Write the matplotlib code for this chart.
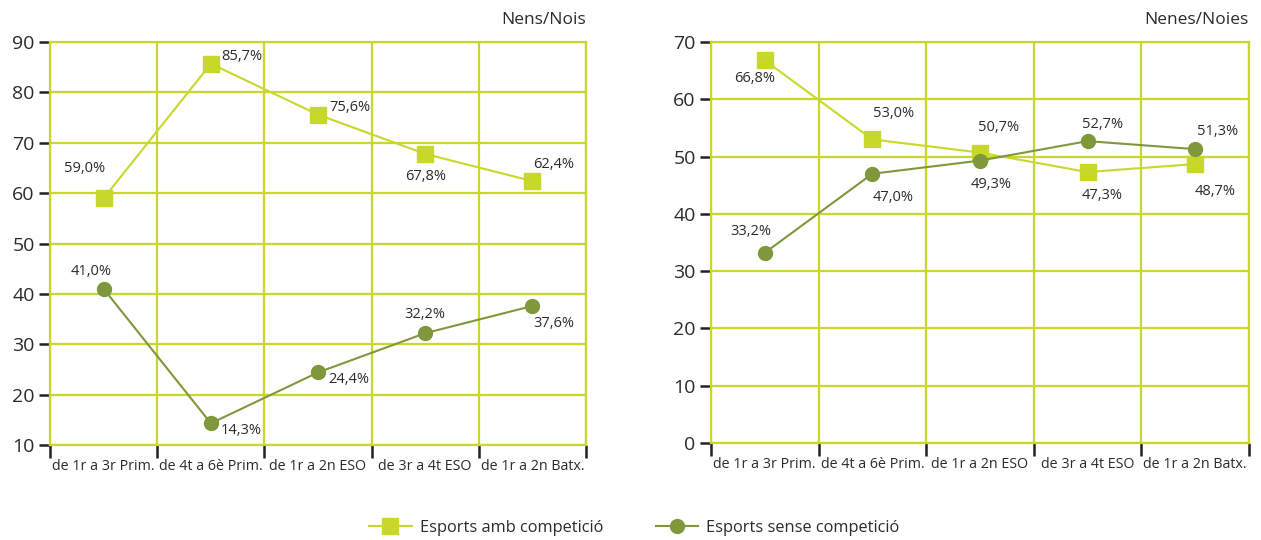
import numpy as np
import matplotlib.pyplot as plt
from matplotlib.lines import Line2D

plt.rcParams['font.family'] = ['Open Sans', 'DejaVu Sans']

# Dades
cursos = ['de 1r a 3r Prim.', 'de 4t a 6è Prim.', 'de 1r a 2n ESO',
          'de 3r a 4t ESO', 'de 1r a 2n Batx.']

nois_amb = [59.0, 85.7, 75.6, 67.8, 62.4]
nois_sense = [41.0, 14.3, 24.4, 32.2, 37.6]
noies_amb = [66.8, 53.0, 50.7, 47.3, 48.7]
noies_sense = [33.2, 47.0, 49.3, 52.7, 51.3]

# desplaçament (px) del centre de cada etiqueta respecte del punt
off_nois_amb = [(-19, 30), (31, 7), (32, 7), (0, -23), (21, 17)]
off_nois_sense = [(-13, 17), (30, -7), (31, -7), (0, 19), (21, -18)]
off_noies_amb = [(-10, -18), (21, 26), (19, 25), (15, -23), (20, -27)]
off_noies_sense = [(-14, 21), (21, -24), (11, -24), (15, 17), (22, 18)]

VERD_CLAR = '#c8d82b'
VERD_FOSC = '#7e983b'
TEXT = '#2b2b2b'


def fmt(v):
    return f'{v:.1f}'.replace('.', ',') + '%'


def etiquetes(ax, x, vals, offs):
    for xi, v, (dx, dy) in zip(x, vals, offs):
        ax.annotate(fmt(v), (xi, v), xytext=(dx * 0.72, dy * 0.72),
                    textcoords='offset points', ha='center', va='center',
                    fontsize=10.5, color=TEXT, zorder=5)


def grafic(ax, amb, sense, off_amb, off_sense, ylim, yticks, titol):
    x = np.arange(len(amb))
    ax.plot(x, amb, color=VERD_CLAR, lw=1.5, marker='s', ms=11, zorder=3)
    ax.plot(x, sense, color=VERD_FOSC, lw=1.5, marker='o', ms=10, zorder=4)
    etiquetes(ax, x, amb, off_amb)
    etiquetes(ax, x, sense, off_sense)

    ax.set_xlim(-0.5, len(amb) - 0.5)
    ax.set_ylim(*ylim)
    ax.set_yticks(yticks)
    ax.set_xticks(np.arange(-0.5, len(amb)))
    ax.set_xticklabels([])
    ax.set_xticks(x, minor=True)
    ax.set_xticklabels(cursos, minor=True)
    ax.tick_params(axis='x', which='major', length=9, width=1.8,
                   color='#222222', direction='out')
    ax.tick_params(axis='x', which='minor', length=0, pad=10,
                   labelsize=10.3, labelcolor=TEXT)
    ax.tick_params(axis='y', length=8, width=1.8, color='#222222',
                   labelsize=14, labelcolor=TEXT, pad=3)
    ax.grid(True, which='major', color=VERD_CLAR, lw=1.6)
    ax.set_axisbelow(True)
    for s in ax.spines.values():
        s.set_color(VERD_CLAR)
        s.set_linewidth(1.6)
    ax.text(1.0, 1.055, titol, transform=ax.transAxes, ha='right',
            va='center', fontsize=12.5, color=TEXT)


fig = plt.figure(figsize=(12.61, 5.4), dpi=100)
ax1 = fig.add_axes([0.0397, 0.176, 0.425, 0.746])
ax2 = fig.add_axes([0.5638, 0.1796, 0.4266, 0.7426])

grafic(ax1, nois_amb, nois_sense, off_nois_amb, off_nois_sense,
       (10, 90), range(10, 91, 10), 'Nens/Nois')
grafic(ax2, noies_amb, noies_sense, off_noies_amb, off_noies_sense,
       (0, 70), range(0, 71, 10), 'Nenes/Noies')

handles = [
    Line2D([], [], color=VERD_CLAR, lw=1.5, marker='s', ms=11),
    Line2D([], [], color=VERD_FOSC, lw=1.5, marker='o', ms=10),
]
fig.legend(handles, ['Esports amb competició', 'Esports sense competició'],
           loc='center', bbox_to_anchor=(0.503, 0.022), ncol=2, frameon=False,
           fontsize=11.8, handlelength=2.6, columnspacing=3.2,
           handletextpad=0.5, labelcolor=TEXT)

fig.savefig('out.png', dpi=100)
